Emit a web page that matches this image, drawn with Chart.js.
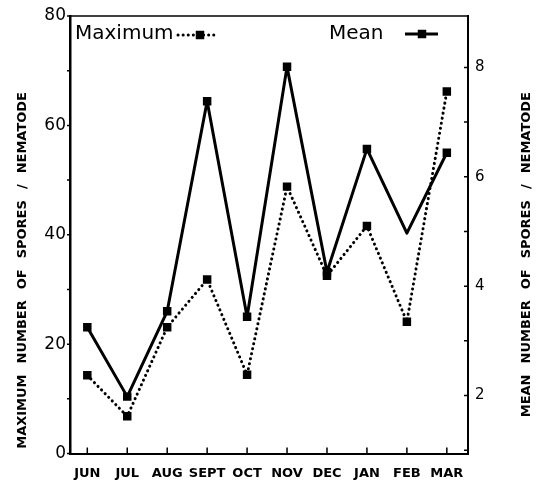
<!DOCTYPE html>
<html><head><meta charset="utf-8">
<script src="https://cdn.jsdelivr.net/npm/chart.js@4.4.1/dist/chart.umd.min.js"></script>
<style>html,body{margin:0;padding:0;background:#fff}#wrap{width:537px;height:482px}</style>
</head><body><div id="wrap"><canvas id="c" width="537" height="482"></canvas></div>
<script>
const months = ['JUN','JUL','AUG','SEPT','OCT','NOV','DEC','JAN','FEB','MAR'];
const maximumSpores = [14.3, 6.8, 23.1, 31.8, 14.4, 48.8, 32.5, 41.6, 24.1, 66.2];
const meanSpores = [3.25, 1.98, 3.54, 7.38, 3.44, 8.01, 4.26, 6.51, 4.97, 6.44];
const meanMarkerShown = [1,1,1,1,1,1,1,1,0,1];
const leftTicks = [0,10,20,30,40,50,60,70,80];
const leftLabels = [0,20,40,60,80];
const rightTicks = [1,2,3,4,5,6,7,8];
const rightLabels = [2,4,6,8];
const leftTitle = 'MAXIMUM NUMBER OF SPORES / NEMATODE';
const rightTitle = 'MEAN NUMBER OF SPORES / NEMATODE';
const legendNames = ['Maximum', 'Mean'];

const INK = '#000';

const decorPlugin = {
  id: 'decor',
  afterDraw(chart) {
    const ctx = chart.ctx;
    const a = chart.chartArea;
    const sx = chart.scales.x, sy = chart.scales.y, sy1 = chart.scales.y1;
    ctx.save();
    ctx.strokeStyle = INK; ctx.fillStyle = INK;
    // top frame line
    ctx.lineWidth = 1.5;
    ctx.beginPath(); ctx.moveTo(a.left - 1, a.top); ctx.lineTo(a.right + 1, a.top); ctx.stroke();
    // tick marks
    ctx.lineWidth = 1.5;
    ctx.beginPath();
    leftTicks.forEach(v => { const p = sy.getPixelForValue(v); ctx.moveTo(a.left - 3, p); ctx.lineTo(a.left, p); });
    rightTicks.forEach(v => { const p = sy1.getPixelForValue(v); ctx.moveTo(a.right - 4, p); ctx.lineTo(a.right, p); });
    months.forEach((m, i) => { const p = sx.getPixelForValue(i); ctx.moveTo(p, a.bottom); ctx.lineTo(p, a.bottom - 6); });
    ctx.stroke();
    // axis titles (both read bottom to top, ending near the top)
    ctx.font = 'bold 13px "DejaVu Sans"';
    try { ctx.wordSpacing = '6.5px'; } catch (e) {}
    ctx.textBaseline = 'middle';
    ctx.textAlign = 'right';
    ctx.save(); ctx.translate(23, 92); ctx.rotate(-Math.PI / 2); ctx.fillText(leftTitle, 0, 0); ctx.restore();
    ctx.save(); ctx.translate(527, 92); ctx.rotate(-Math.PI / 2); ctx.fillText(rightTitle, 0, 0); ctx.restore();
    try { ctx.wordSpacing = '0px'; } catch (e) {}
    // legend
    ctx.font = '20px "DejaVu Sans"';
    ctx.textAlign = 'left';
    ctx.fillText(legendNames[0], 75, 34);
    ctx.fillText(legendNames[1], 329, 34);
    const drawSample = (ds, x1, x2, xm, y) => {
      ctx.save();
      ctx.lineWidth = ds.borderWidth;
      ctx.lineCap = ds.borderCapStyle || 'butt';
      ctx.setLineDash(ds.borderDash || []);
      ctx.beginPath(); ctx.moveTo(x1, y); ctx.lineTo(x2, y); ctx.stroke();
      ctx.setLineDash([]);
      const s = Math.SQRT1_2 * 6;
      ctx.fillRect(xm - s, y - s, 2 * s, 2 * s);
      ctx.restore();
    };
    drawSample(chart.data.datasets[0], 178, 216, 200, 35);
    drawSample(chart.data.datasets[1], 405, 438, 422, 34);
    ctx.restore();
  }
};

new Chart(document.getElementById('c'), {
  type: 'line',
  data: {
    datasets: [
      {
        label: legendNames[0],
        data: months.map((m, i) => ({x: i, y: maximumSpores[i]})),
        yAxisID: 'y',
        borderColor: INK, backgroundColor: INK,
        borderWidth: 3, borderDash: [0.1, 5], borderCapStyle: 'round', borderJoinStyle: 'round',
        pointStyle: 'rect', pointRadius: 6, pointBorderWidth: 0, pointBackgroundColor: INK,
        tension: 0, fill: false
      },
      {
        label: legendNames[1],
        data: months.map((m, i) => ({x: i, y: meanSpores[i]})),
        yAxisID: 'y1',
        borderColor: INK, backgroundColor: INK,
        borderWidth: 3, borderCapStyle: 'butt', borderJoinStyle: 'round',
        pointStyle: 'rect', pointRadius: meanMarkerShown.map(s => s ? 6 : 0), pointBorderWidth: 0, pointBackgroundColor: INK,
        tension: 0, fill: false
      }
    ]
  },
  options: {
    responsive: false, animation: false, devicePixelRatio: 1,
    layout: {padding: {top: 16, left: 0, right: 0, bottom: 0}},
    plugins: {legend: {display: false}, tooltip: {enabled: false}, title: {display: false}},
    scales: {
      x: {
        type: 'linear', position: 'bottom', min: -0.433, max: 9.53,
        afterBuildTicks: s => { s.ticks = months.map((m, i) => ({value: i})); },
        ticks: {callback: v => months[v], autoSkip: false, maxRotation: 0, minRotation: 0, padding: 12,
                color: INK, font: {family: 'DejaVu Sans', weight: 'bold', size: 13}},
        grid: {display: false, drawTicks: false},
        border: {display: true, color: INK, width: 2},
        afterFit: s => { s.height = 28.5; }
      },
      y: {
        position: 'left', min: 0, max: 80,
        afterBuildTicks: s => { s.ticks = leftTicks.map(v => ({value: v})); },
        ticks: {callback: v => leftLabels.includes(v) ? String(v) : '', padding: 4, autoSkip: false,
                color: INK, font: {family: 'DejaVu Sans', size: 17}},
        grid: {display: false, drawTicks: false},
        border: {display: true, color: INK, width: 2.5},
        afterFit: s => { s.width = 70; }
      },
      y1: {
        position: 'right', min: 0.94, max: 8.94,
        afterBuildTicks: s => { s.ticks = rightTicks.map(v => ({value: v})); },
        ticks: {callback: v => rightLabels.includes(v) ? String(v) : '', padding: 7, autoSkip: false,
                color: INK, font: {family: 'DejaVu Sans', size: 15}},
        grid: {display: false, drawTicks: false},
        border: {display: true, color: INK, width: 2},
        afterFit: s => { s.width = 69; }
      }
    }
  },
  plugins: [decorPlugin]
});
</script>
</body></html>
